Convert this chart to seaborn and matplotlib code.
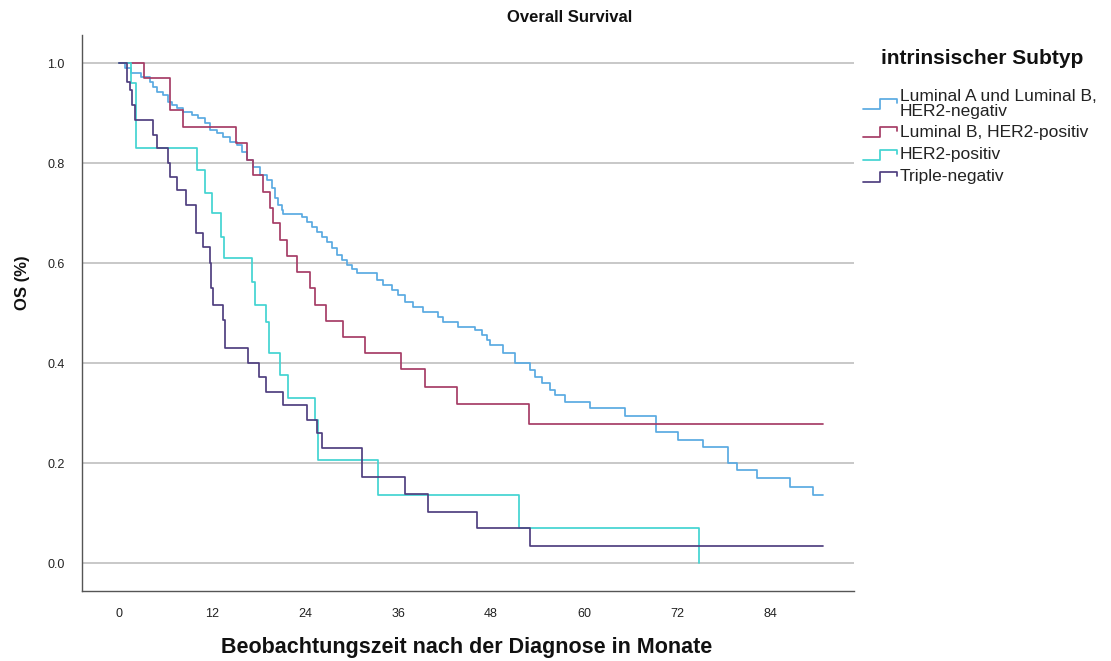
import numpy as np
import pandas as pd
import matplotlib
matplotlib.use("Agg")
import matplotlib.pyplot as plt
from matplotlib.lines import Line2D
import seaborn as sns

# Kaplan-Meier step data: event times (months) and survival after each step
groups = ["Luminal A und Luminal B,\nHER2-negativ", "Luminal B, HER2-positiv",
          "HER2-positiv", "Triple-negativ"]

lum_neg_t = [0, 0.8, 1.6, 2.8, 4.0, 4.4, 4.9, 5.7, 6.3, 6.8, 7.5, 8.3, 9.4, 10.2, 11.1,
             11.7, 12.6, 13.4, 14.3, 15.2, 15.9, 16.5, 17.3, 18.2, 19.1, 19.7, 20.1,
             20.5, 21.0, 21.2, 23.6, 24.3, 24.9, 25.5, 26.2, 26.8, 27.5, 28.1, 28.8,
             29.4, 30.1, 30.7, 33.3, 34.1, 35.2, 36.0, 36.9, 37.9, 39.2, 41.1, 41.8,
             43.7, 45.9, 46.8, 47.5, 47.9, 49.5, 51.1, 53.0, 53.7, 54.6, 55.6, 56.2,
             57.5, 60.8, 65.3, 69.3, 72.1, 75.3, 78.6, 79.7, 82.3, 86.6, 89.5, 90.8]
lum_neg_s = [1.0, 0.99, 0.98, 0.972, 0.962, 0.952, 0.942, 0.936, 0.922, 0.916, 0.91,
             0.902, 0.896, 0.89, 0.88, 0.866, 0.86, 0.852, 0.842, 0.836, 0.822, 0.806,
             0.792, 0.776, 0.766, 0.75, 0.73, 0.716, 0.706, 0.698, 0.692, 0.682, 0.672,
             0.662, 0.652, 0.642, 0.63, 0.616, 0.606, 0.596, 0.588, 0.58, 0.566, 0.556,
             0.546, 0.536, 0.522, 0.512, 0.502, 0.492, 0.482, 0.472, 0.466, 0.456,
             0.446, 0.436, 0.42, 0.40, 0.386, 0.372, 0.36, 0.346, 0.336, 0.322, 0.31,
             0.294, 0.262, 0.246, 0.232, 0.2, 0.186, 0.17, 0.152, 0.136, 0.136]

lum_pos_t = [0, 3.2, 6.6, 8.3, 15.1, 16.5, 17.3, 18.6, 19.5, 19.9, 20.8, 21.7, 23.0,
             24.6, 25.3, 26.7, 28.9, 31.7, 36.4, 39.5, 43.6, 52.9, 90.8]
lum_pos_s = [1.0, 0.97, 0.906, 0.872, 0.84, 0.806, 0.776, 0.742, 0.71, 0.68, 0.646,
             0.614, 0.582, 0.55, 0.516, 0.484, 0.452, 0.42, 0.388, 0.352, 0.318,
             0.278, 0.278]

her2_t = [0, 1.6, 2.2, 10.1, 11.1, 12.0, 13.2, 13.6, 17.2, 17.6, 19.0, 19.3, 20.8,
          21.8, 25.3, 25.7, 33.4, 51.6, 74.8]
her2_s = [1.0, 0.96, 0.83, 0.786, 0.74, 0.70, 0.652, 0.61, 0.562, 0.516, 0.483,
          0.42, 0.376, 0.33, 0.286, 0.206, 0.136, 0.07, 0.0]

tn_t = [0, 1.0, 1.4, 1.7, 2.1, 4.4, 4.9, 6.3, 6.6, 7.5, 8.7, 9.9, 10.8, 11.7, 11.9,
        12.1, 13.4, 13.7, 16.6, 18.1, 19.0, 21.2, 24.2, 25.5, 26.2, 31.4, 36.9, 39.9,
        46.2, 53.0, 90.8]
tn_s = [1.0, 0.962, 0.946, 0.916, 0.886, 0.856, 0.83, 0.80, 0.772, 0.746, 0.716,
        0.66, 0.632, 0.60, 0.55, 0.516, 0.486, 0.43, 0.40, 0.372, 0.342, 0.316,
        0.286, 0.26, 0.23, 0.172, 0.138, 0.102, 0.07, 0.034, 0.034]

colors = ["#5aaae2", "#a63d66", "#42d4d2", "#4f3f80"]

x_ticks = [0, 12, 24, 36, 48, 60, 72, 84]
y_ticks = [0.0, 0.2, 0.4, 0.6, 0.8, 1.0]

frames = []
for name, t, s in zip(groups, [lum_neg_t, lum_pos_t, her2_t, tn_t],
                      [lum_neg_s, lum_pos_s, her2_s, tn_s]):
    frames.append(pd.DataFrame({"Monate": t, "OS": s, "Subtyp": name}))
df = pd.concat(frames, ignore_index=True)

sns.set_theme(style="white")
plt.rcParams["font.family"] = ["Liberation Sans", "DejaVu Sans"]

W, H = 1111, 661
fig = plt.figure(figsize=(W / 100, H / 100), dpi=100)
ax = fig.add_axes([82 / W, 70 / H, (854 - 82) / W, (626 - 70) / H])

for y in y_ticks:
    ax.axhline(y, color="#b9b9b9", lw=1.1, zorder=0)

sns.lineplot(data=df, x="Monate", y="OS", hue="Subtyp", hue_order=groups,
             palette=colors, estimator=None, sort=False, drawstyle="steps-post",
             linewidth=1.25, legend=False, ax=ax)

ax.set_xlim(-4.76, 94.8)
ax.set_ylim(-0.056, 1.056)
ax.set_xticks(x_ticks)
ax.set_xticklabels([str(v) for v in x_ticks])
ax.set_yticks(y_ticks)
ax.set_yticklabels([f"{v:.1f}" for v in y_ticks])
ax.tick_params(axis="both", length=0, labelsize=9, colors="#222222")
ax.tick_params(axis="x", pad=12)
ax.tick_params(axis="y", pad=12.5)
for side in ["top", "right"]:
    ax.spines[side].set_visible(False)
for side in ["left", "bottom"]:
    ax.spines[side].set_color("#555555")
    ax.spines[side].set_linewidth(1.0)

ax.set_xlabel("")
ax.set_ylabel("")
fig.text(570 / W, 1 - 18 / H, "Overall Survival", ha="center", va="center",
         fontsize=12, fontweight="bold", color="#111111")
fig.text(467 / W, 1 - 648 / H, "Beobachtungszeit nach der Diagnose in Monate",
         ha="center", va="center", fontsize=15.5, fontweight="bold", color="#111111")
fig.text(22 / W, 1 - 283 / H, "OS (%)", ha="center", va="center", rotation=90,
         fontsize=12, fontweight="bold", color="#111111")

# Legend: bold title, step-shaped keys, labels (positions in pixels from top-left)
fig.text(881 / W, 1 - 58 / H, "intrinsischer Subtyp", ha="left", va="center",
         fontsize=15, fontweight="bold", color="#111111")
key_rows = [104, 132, 155, 177]
label_rows = [104, 132, 155, 177]
for name, c, ky, ly in zip(groups, colors, key_rows, label_rows):
    xs = [863, 880, 880, 897, 897]
    ys = [ky + 5, ky + 5, ky - 5, ky - 5, ky - 1]
    fig.add_artist(Line2D([x / W for x in xs], [1 - y / H for y in ys],
                          color=c, lw=1.25, transform=fig.transFigure))
    fig.text(900 / W, 1 - ly / H, name, ha="left", va="center", fontsize=12.5,
             color="#222222", linespacing=1.0)

fig.savefig("out.png", dpi=100, facecolor="white")
